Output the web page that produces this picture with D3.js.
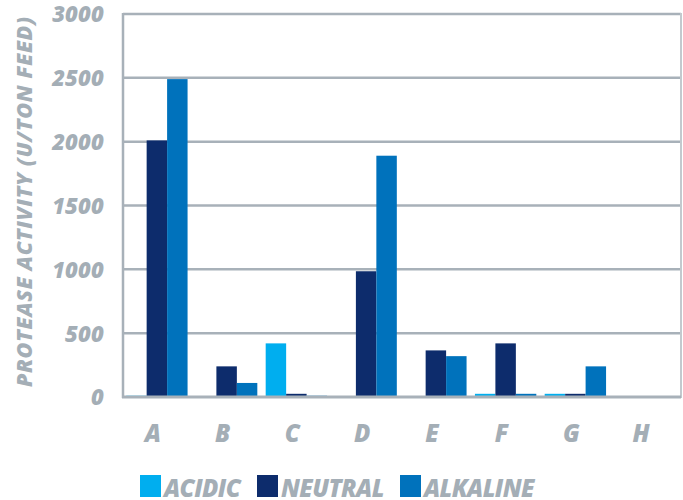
<!DOCTYPE html>
<html>
<head>
<meta charset="utf-8">
<script src="https://cdn.jsdelivr.net/npm/d3@7"></script>
<style>
  html, body { margin: 0; padding: 0; background: #fff; }
  svg { display: block; }
  text { font-family: "Open Sans", sans-serif; font-weight: 800; font-style: italic; fill: #a4aeb6; }
</style>
</head>
<body>
<svg id="chart" width="683" height="500"></svg>
<script>
// Protease activity per sample, by pH condition (U/ton feed)
const categories = ["A", "B", "C", "D", "E", "F", "G", "H"];
const seriesNames = ["ACIDIC", "NEUTRAL", "ALKALINE"];
const acidic   = [10, 0, 420, 0, 0, 25, 25, 0];
const neutral  = [2010, 240, 25, 985, 365, 420, 25, 0];
const alkaline = [2490, 110, 10, 1890, 320, 25, 240, 0];
const seriesColors = ["#00aeef", "#0d2c6c", "#0072bc"];
const yTicks = [0, 500, 1000, 1500, 2000, 2500, 3000];
const yTitle = "PROTEASE ACTIVITY (U/TON FEED)";

const series = [acidic, neutral, alkaline];
const svg = d3.select("#chart");

const plot = { left: 123, right: 681, top: 14, bottom: 397 };
const gridColor = "#a8b1b9";

const y = d3.scaleLinear().domain([0, 3000]).range([plot.bottom, plot.top]);
const x = d3.scaleBand().domain(categories).range([plot.left - 1, plot.right - 1]).paddingInner(0.12).paddingOuter(0.06);
const xSub = d3.scaleBand().domain(seriesNames).range([0, x.bandwidth()]);

// Grid lines
svg.append("g").selectAll("line").data(yTicks.filter(t => t > 0)).join("line")
  .attr("x1", plot.left).attr("x2", plot.right)
  .attr("y1", d => y(d)).attr("y2", d => y(d))
  .attr("stroke", gridColor).attr("stroke-width", 2.5);

// Frame: left and right borders
svg.append("line").attr("x1", plot.left).attr("x2", plot.left)
  .attr("y1", plot.top - 1).attr("y2", plot.bottom + 1)
  .attr("stroke", gridColor).attr("stroke-width", 2.5);
svg.append("line").attr("x1", plot.right).attr("x2", plot.right)
  .attr("y1", plot.top - 1).attr("y2", plot.bottom + 1)
  .attr("stroke", "#c3c9ce").attr("stroke-width", 2);

// Bars
const groups = svg.append("g").selectAll("g").data(categories).join("g")
  .attr("transform", d => `translate(${x(d)},0)`);
groups.selectAll("rect")
  .data((c, i) => seriesNames.map((s, k) => ({ s, v: series[k][i], color: seriesColors[k] })))
  .join("rect")
  .attr("x", d => xSub(d.s))
  .attr("width", xSub.bandwidth())
  .attr("y", d => y(d.v))
  .attr("height", d => y(0) - y(d.v))
  .attr("fill", d => d.color);

// Baseline
svg.append("line").attr("x1", plot.left - 1).attr("x2", plot.right)
  .attr("y1", plot.bottom).attr("y2", plot.bottom)
  .attr("stroke", gridColor).attr("stroke-width", 3);

// Y axis labels
const yAxis = d3.axisLeft(y).tickValues(yTicks).tickSize(0).tickPadding(0).tickFormat(d3.format("d"));
const yg = svg.append("g").attr("transform", "translate(104,0)").call(yAxis);
yg.select(".domain").remove();
yg.selectAll("text").attr("font-size", 22).attr("dy", "0.36em").attr("letter-spacing", 0.2)
  .style("fill", "#a4aeb6").style("font-family", "'Open Sans', sans-serif");

// X axis labels (nudged left so the slanted glyphs sit under their groups)
const xAxis = d3.axisBottom(x).tickSize(0).tickPadding(0);
const xg = svg.append("g").attr("transform", "translate(-4,425)").call(xAxis);
xg.select(".domain").remove();
xg.selectAll("text").attr("font-size", 24).attr("dy", "0.72em")
  .style("fill", "#a4aeb6").style("font-family", "'Open Sans', sans-serif");

// Y axis title
svg.append("text")
  .attr("transform", "translate(32,202) rotate(-90)")
  .attr("text-anchor", "middle")
  .attr("font-size", 21.5)
  .attr("textLength", 370)
  .attr("lengthAdjust", "spacing")
  .text(yTitle);

// Legend
const legendX = [140, 257, 400];
const legend = svg.append("g").selectAll("g").data(seriesNames).join("g")
  .attr("transform", (d, i) => `translate(${legendX[i]},475)`);
legend.append("rect").attr("width", 21).attr("height", 22)
  .attr("fill", (d, i) => seriesColors[i]);
legend.append("text").attr("x", 24).attr("y", 21.5)
  .attr("font-size", 24).attr("letter-spacing", -0.6)
  .text(d => d);
</script>
</body>
</html>
